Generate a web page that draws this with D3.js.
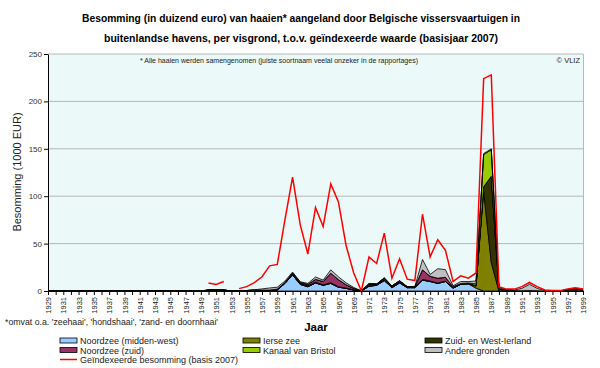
<!DOCTYPE html>
<html><head><meta charset="utf-8">
<script src="https://cdn.jsdelivr.net/npm/d3@7"></script>
<style>body{margin:0;background:#fff}</style>
</head><body><svg id="c" width="600" height="368"></svg>
<script>
const years = d3.range(1929, 2000);
const yTicks = [0, 50, 100, 150, 200, 250];
const Z21 = Array(21).fill(0);
const noordzeeMW = Z21.concat([0,0,0,0,0,0,0,0,0, 1,8,17,7,4.5,8.5,6,8,4,2.8,1,0,5,6,11,3.5,8.5,3.5,3.5,11.5,10,8,10,3,7,7.5,3, 0,0,0,0,0,0,0,0,0,0,0,0,0,0]);
const ierseZee = Z21.concat([0,0,0,0,0,0,0,0,0,0, 0,0,0,0,0,0,0,0,0,0, 0,0,0,0,0,0,0,0,0,0, 0,0,0,0,0, 2,105,30, 0,0,0,0,0,0,0,0,0,0,0,0]);
const zwIerland = Z21.concat([1,1.5,1,0,0,0.5,0.8,1,1,1, 1,1.5,1,1,0.8,0.5,0.8,0.5,0.3,0.3, 0,1.5,0.8,1,0.8,1,0.5,0.5,0.8,0.5, 0.5,0.5,0.5,0.5,0.5,0.5,5,91,2.5,1, 0.5,0.3,0.5,0.3,0,0,0,1.5,2.5,1]);
const noordzeeZuid = Z21.concat([0,0,0,0,0,0,0,0,0,0,0, 0.5,1,1.5,3,3.5,10,7.5,3.5,1.5,0,1,0.5,1.5,1,1,0.5,0.5,10,5,5,4,1,0.5,0.5, 0,0,0,0,0,0,0,0,0,0,0,0,0,0,0]);
const bristol = Z21.concat([0,0,0,0,0,0,0,0,0,0, 0,0,0,0,0,0,0,0,0,0, 0,0,0,0,0,0,0,0,0,0, 0,0,0,0,0, 2,34,28, 0,0,0,0,0,0,0,0,0,0,0,0]);
const andere = Z21.concat([0,0,0,0,0,0, 0.5,1.2,2.2,2,1.5,1,0.8,1,2.5,1.5,3.5,3,2,1,0,0.5,0,0.5,0,0.5,0,0,11,2,10,8,1,2,1.5,3,1,1,1,0.5,0.5,2.5,6.5,2.5,0.5, 0,0,0,0,0]);
const geindexeerd = Array(21).fill(null).concat([8.5,7,10,null,2.5,4.6,8.8,15,26.5,28, 75,120,70,39,88,68,113,94,48,19, 0,36,29,61,13.5,34,12.5,11,81,36, 54,43,10,16,13.5,19,224,228,4.6,2, 2,4.6,9,4.6,1,0.4,0.4,2,3.5,2]);

const seriesNames = ["Noordzee (midden-west)","Ierse zee","Zuid- en West-Ierland","Noordzee (zuid)","Kanaal van Bristol","Andere gronden"];
const seriesData = [noordzeeMW, ierseZee, zwIerland, noordzeeZuid, bristol, andere];
const colors = ["#99CCFF","#808000","#333300","#993366","#99CC00","#C0C0C0"];

const svg = d3.select("#c");
const FONT = "Liberation Sans, Arial, sans-serif";
const x = d3.scaleLinear().domain([1929, 1999]).range([48, 583]);
const y = d3.scaleLinear().domain([0, 250]).range([291, 54]);

svg.append("rect").attr("x", x(1929)).attr("y", y(250)).attr("width", x(1999)-x(1929)).attr("height", y(0)-y(250)).attr("fill", "#ebf9f9");
svg.append("g").selectAll("line").data(yTicks.filter(d=>d>0)).join("line")
  .attr("x1", x(1929)).attr("x2", x(1999)).attr("y1", d=>y(d)).attr("y2", d=>y(d))
  .attr("stroke", "#b8b8b8").attr("stroke-width", 1);
svg.append("line").attr("x1", x(1999)+0.5).attr("x2", x(1999)+0.5).attr("y1", y(250)).attr("y2", y(0)).attr("stroke", "#b8b8b8");

const rows = years.map((yr, i) => { const o = {year: yr}; seriesNames.forEach((n, k) => o[n] = seriesData[k][i]); return o; });
const stack = d3.stack().keys(seriesNames)(rows);
const area = d3.area().x(d => x(d.data.year)).y0(d => y(d[0])).y1(d => y(d[1]));
svg.append("g").selectAll("path").data(stack).join("path")
  .attr("d", area).attr("fill", (d, i) => colors[i]).attr("stroke", "#000").attr("stroke-width", 0.8).attr("stroke-linejoin", "round");

const line = d3.line().defined(d => d.v !== null).x(d => x(d.year)).y(d => y(d.v));
svg.append("path").datum(years.map((yr, i) => ({year: yr, v: geindexeerd[i]})))
  .attr("d", line).attr("fill", "none").attr("stroke", "#ff0000").attr("stroke-width", 1.5);

const ya = svg.append("g").attr("transform", `translate(${x(1929)},0)`)
  .call(d3.axisLeft(y).tickValues(yTicks).tickSize(4).tickSizeOuter(0));
ya.select(".domain").attr("stroke", "#000");
ya.selectAll("text").attr("font-family", FONT).attr("font-size", 8).attr("fill", "#333").attr("x", -6);

const xa = svg.append("g").attr("transform", `translate(0,${y(0)})`)
  .call(d3.axisBottom(x).tickValues(years).tickSize(4).tickSizeOuter(0).tickFormat(d => (d - 1929) % 2 === 0 ? d : ""));
xa.select(".domain").attr("stroke", "#000");
xa.selectAll("text").attr("font-family", FONT).attr("font-size", 7.5).attr("fill", "#222")
  .attr("transform", "rotate(-90)").attr("x", -6).attr("y", 0).attr("dy", "0.35em").style("text-anchor", "end");

function fitText(sel, w) { sel.attr("textLength", w).attr("lengthAdjust", "spacingAndGlyphs"); }
const t1 = svg.append("text").attr("x", 301).attr("y", 22).attr("text-anchor", "middle").attr("font-family", FONT).attr("font-weight", "bold").attr("font-size", 11.5)
  .text("Besomming (in duizend euro) van haaien* aangeland door Belgische vissersvaartuigen in");
fitText(t1, 438);
const t2 = svg.append("text").attr("x", 301).attr("y", 42).attr("text-anchor", "middle").attr("font-family", FONT).attr("font-weight", "bold").attr("font-size", 11.5)
  .text("buitenlandse havens, per visgrond, t.o.v. geïndexeerde waarde (basisjaar 2007)");
fitText(t2, 394);

svg.append("text").attr("transform", "translate(21,172) rotate(-90)").attr("text-anchor", "middle").attr("font-family", FONT).attr("font-size", 11).attr("fill", "#222")
  .text("Besomming (1000 EUR)");
svg.append("text").attr("x", 316).attr("y", 331).attr("text-anchor", "middle").attr("font-family", FONT).attr("font-weight", "bold").attr("font-size", 11.5)
  .text("Jaar");

const n1 = svg.append("text").attr("x", 140).attr("y", 63).attr("font-family", FONT).attr("font-size", 7.5).attr("fill", "#222")
  .text("* Alle haaien werden samengenomen (juiste soortnaam veelal onzeker in de rapportages)");
fitText(n1, 278);
svg.append("text").attr("x", 580).attr("y", 63).attr("text-anchor", "end").attr("font-family", FONT).attr("font-size", 7.5).attr("fill", "#222").text("© VLIZ");

const fn = svg.append("text").attr("x", 5).attr("y", 325).attr("font-family", FONT).attr("font-size", 8.5).attr("fill", "#222")
  .text("*omvat o.a. 'zeehaai', 'hondshaai', 'zand- en doornhaai'");
fitText(fn, 213);

const legendItems = [
  {name: "Noordzee (midden-west)", c: colors[0], x: 60, y: 338, type: "rect"},
  {name: "Noordzee (zuid)", c: colors[3], x: 60, y: 347.5, type: "rect"},
  {name: "Geïndexeerde besomming (basis 2007)", c: "#ff0000", x: 60, y: 357, type: "line"},
  {name: "Ierse zee", c: colors[1], x: 243, y: 338, type: "rect"},
  {name: "Kanaal van Bristol", c: colors[4], x: 243, y: 347.5, type: "rect"},
  {name: "Zuid- en West-Ierland", c: colors[2], x: 425, y: 338, type: "rect"},
  {name: "Andere gronden", c: colors[5], x: 425, y: 347.5, type: "rect"}
];
const lg = svg.append("g").selectAll("g").data(legendItems).join("g");
lg.filter(d => d.type === "rect").append("rect").attr("x", d => d.x).attr("y", d => d.y).attr("width", 17).attr("height", 5)
  .attr("fill", d => d.c).attr("stroke", "#000").attr("stroke-width", 0.8);
lg.filter(d => d.type === "line").append("line").attr("x1", d => d.x).attr("x2", d => d.x + 17).attr("y1", d => d.y + 2.5).attr("y2", d => d.y + 2.5)
  .attr("stroke", d => d.c).attr("stroke-width", 1.5);
lg.append("text").attr("x", d => d.x + 20).attr("y", d => d.y + 6).attr("font-family", FONT).attr("font-size", 9).attr("fill", "#222").text(d => d.name);
</script></body></html>
